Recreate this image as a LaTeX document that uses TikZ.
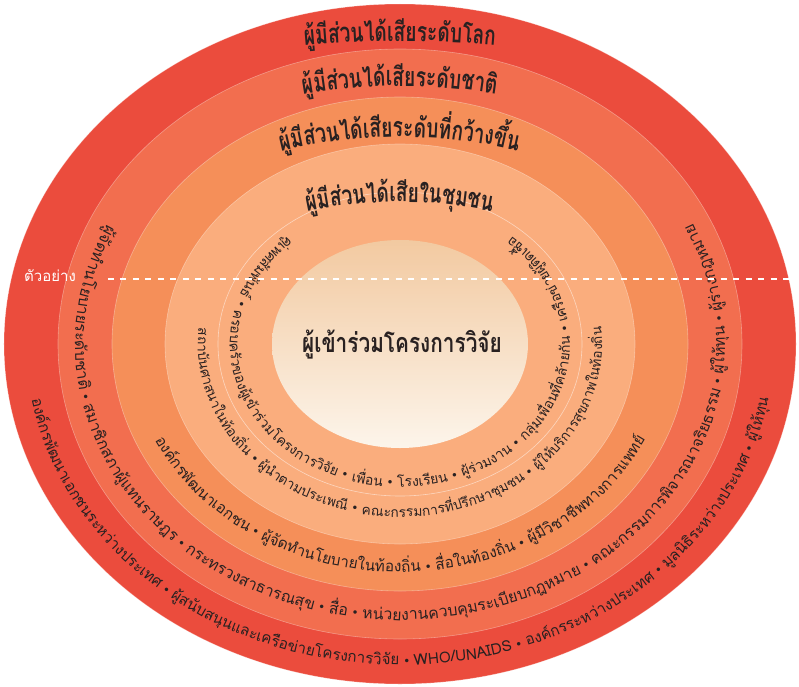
\documentclass[tikz,border=0pt]{standalone}
\usepackage{fontspec}
\usepackage{graphicx}
\newfontfamily\thaifont[Script=Thai]{Loma}
\newfontfamily\symfont{DejaVu Sans}
\definecolor{ringred}{rgb}{0.92, 0.30, 0.24}
\definecolor{ringsalmon}{rgb}{0.95, 0.43, 0.31}
\definecolor{ringorange}{rgb}{0.96, 0.56, 0.35}
\definecolor{ringpeach}{rgb}{0.98, 0.68, 0.49}
\definecolor{coretop}{rgb}{0.95, 0.79, 0.63}
\definecolor{corebottom}{rgb}{0.99, 0.96, 0.92}
\definecolor{ink}{rgb}{0.16, 0.13, 0.13}
\def\bodypt{15.3}
\newcommand{\bodybox}[1]{{\thaifont\fontsize{\bodypt}{18}\selectfont #1}}
\newcommand{\titlebox}[1]{\scalebox{0.71}[1]{\thaifont\bfseries\fontsize{27pt}{30pt}\selectfont #1}}
\newcommand{\corebox}[1]{\scalebox{0.77}[1]{\thaifont\bfseries\fontsize{27pt}{30pt}\selectfont #1}}
\protected\def\dotsep{\kern4pt{\symfont\fontsize{12pt}{12pt}\selectfont •}\kern4pt}
\makeatletter
\newdimen\clusterwd
\newdimen\ringtotal
\newbox\clusterbox
\newcount\ringstep
\def\ringstop{\ringstop}
\def\ringscan#1,{\def\ringpiece{#1}\ifx\ringpiece\ringstop\else\ringdo\expandafter\ringscan\fi}
% width of a piece, taken inside a node where the font is live
\def\ringgauge{\node[inner sep=0pt] at (0,0) {\setbox\clusterbox=\hbox{\ringbox{\ringpiece}}\global\clusterwd=\wd\clusterbox};%
  \edef\ringw{\strip@pt\clusterwd}}
\def\ringmeasure{\ringgauge\global\advance\ringtotal by\clusterwd}
\def\ringwalk{\ringstep=0
  \loop\ifnum\ringstep<40 \advance\ringstep by1
    \pgfmathsetmacro{\ringangle}{\ringangle-(\ringsense)*57.29578*(\ringtot/80)/(100*sqrt((\ringrx/100*sin(\ringangle))^2+(\ringry/100*cos(\ringangle))^2))}%
  \repeat}
\def\ringplace{%
  \ringgauge
  \pgfmathsetmacro{\ringmid}{\ringangle+(\ringsense)*57.29578*(\ringw/2)/(100*sqrt((\ringrx/100*sin(\ringangle))^2+(\ringry/100*cos(\ringangle))^2))}%
  \pgfmathsetmacro{\ringturn}{atan2((\ringsense)*(\ringry)*cos(\ringmid),-(\ringsense)*(\ringrx)*sin(\ringmid))}%
  \node[text=ink, anchor=base, inner sep=0pt, rotate=\ringturn] at ({\ringcx+\ringrx*cos(\ringmid)},{\ringcy+\ringry*sin(\ringmid)}) {\ringbox{\ringpiece}};%
  \pgfmathsetmacro{\ringangle}{\ringangle+(\ringsense)*57.29578*\ringw/(100*sqrt((\ringrx/100*sin(\ringmid))^2+(\ringry/100*cos(\ringmid))^2))}%
}
% #1,#2 centre, #3,#4 radii, #5 middle angle, #6 sense, #7 box, #8 pieces
\newcommand{\ringwrite}[8]{%
  \def\ringcx{#1}\def\ringcy{#2}\def\ringrx{#3}\def\ringry{#4}\def\ringsense{#6}\let\ringbox#7%
  \global\ringtotal=0pt
  \let\ringdo\ringmeasure
  \ringscan#8,\ringstop,%
  \edef\ringtot{\strip@pt\ringtotal}%
  \def\ringangle{#5}%
  \ringwalk
  \let\ringdo\ringplace
  \ringscan#8,\ringstop,%
}
\makeatother

\begin{document}
\begin{tikzpicture}[x=1pt,y=1pt,
  ringedge/.style={draw=white, draw opacity=.35, line width=.6pt}]
\useasboundingbox (-400,-342) rectangle (399,344);

% rings, outside in
\filldraw[fill=ringred, ringedge] (0,0) ellipse [x radius=396pt, y radius=340pt];
\filldraw[fill=ringsalmon, ringedge] (0,0) ellipse [x radius=342pt, y radius=295pt];
\filldraw[fill=ringorange, ringedge] (0,0) ellipse [x radius=288pt, y radius=247pt];
\filldraw[fill=ringpeach, ringedge] (0,0) ellipse [x radius=235pt, y radius=200pt];
\draw[ringedge, draw opacity=.5] (0,0) ellipse [x radius=182pt, y radius=152pt];
\shade[top color=coretop, bottom color=corebottom] (0,0) ellipse [x radius=128pt, y radius=104pt];

% titles over the top
\ringwrite{0}{-697}{1000}{1000}{90}{-1}{\titlebox}{ผู้,มี,ส่วน,ได้,เสีย,ระ,ดับ,โลก}
\ringwrite{0}{-302}{560}{560}{90}{-1}{\titlebox}{ผู้,มี,ส่วน,ได้,เสีย,ระ,ดับ,ชาติ}
\ringwrite{0}{-293}{500}{500}{90}{-1}{\titlebox}{ผู้,มี,ส่วน,ได้,เสีย,ระ,ดับ,ที่,กว้าง,ขึ้น}
\ringwrite{0}{-308}{450}{450}{90}{-1}{\titlebox}{ผู้,มี,ส่วน,ได้,เสีย,ใน,ชุม,ชน}

% members, round the bottom
\def\bodypt{15.2}
\ringwrite{0}{0}{374}{321}{270}{1}{\bodybox}{อง,ค์,กร,พัฒ,นา,เอก,ชน,ระ,หว่าง,ประ,เทศ,\dotsep,ผู้,สนับ,สนุน,และ,เครือ,ข่าย,โครง,การ,วิ,จัย,\dotsep,WHO/UN,AIDS,\dotsep,อง,ค์,กร,ระ,หว่าง,ประ,เทศ,\dotsep,มูล,นิ,ธิ,ระ,หว่าง,ประ,เทศ,\dotsep,ผู้,ให้,ทุน}
\def\bodypt{15.8}
\ringwrite{0}{0}{325}{276}{270}{1}{\bodybox}{ผู้,จัด,ทำ,นโย,บาย,ระ,ดับ,ชาติ,\dotsep,สมา,ชิก,สภา,ผู้,แทน,ราษ,ฎร,\dotsep,กระ,ทรวง,สา,ธา,รณ,สุข,\dotsep,สื่อ,\dotsep,หน่วย,งาน,ควบ,คุม,ระ,เบียบ,กฎ,หมาย,\dotsep,คณะ,กรรม,การ,พิ,จา,รณา,จริ,ย,ธรรม,\dotsep,ผู้,ให้,ทุน,\dotsep,ผู้,ร่าง,กฎ,หมาย}
\def\bodypt{15.3}
\ringwrite{0}{0}{270}{228}{270}{1}{\bodybox}{อง,ค์,กร,พัฒ,นา,เอก,ชน,\dotsep,ผู้,จัด,ทำ,นโย,บาย,ใน,ท้อง,ถิ่น,\dotsep,สื่อ,ใน,ท้อง,ถิ่น,\dotsep,ผู้,มี,วิ,ชา,ชีพ,ทาง,การ,แพ,ทย์}
\def\bodypt{13.7}
\ringwrite{0}{0}{202}{173}{270}{1}{\bodybox}{สถา,บัน,ศา,สนา,ใน,ท้อง,ถิ่น,\dotsep,ผู้,นำ,ตาม,ประ,เพ,ณี,\dotsep,คณะ,กรรม,การ,ที่,ปรึก,ษา,ชุม,ชน,\dotsep,ผู้,ให้,บริ,การ,สุข,ภาพ,ใน,ท้อง,ถิ่น}
\def\bodypt{13.9}
\ringwrite{0}{0}{170}{143}{270}{1}{\bodybox}{คู่,เพศ,สัม,พันธ์,\dotsep,คร,อบ,ครัว,ของ,ผู้,เข้า,ร่วม,โค,รง,การ,วิ,จัย,\dotsep,เพื่,อน,\dotsep,โรง,เรี,ยน,\dotsep,ผู้,ร่วม,งาน,\dotsep,กลุ่ม,เพื่,อน,ที่,คล้,าย,กัน,\dotsep,เค,รือ,ข่าย,ผู้,ติด,เชื้,อ}

\node[text=ink, anchor=base] (core) at (2,-8) {\corebox{ผู้เข้าร่วมโครงการวิจัย}};

% example cut
\coordinate (dashstart) at (-292,65);
\coordinate (dashend) at (399,65);
\draw[white, line width=1.3pt, dash pattern=on 6pt off 6.5pt] (dashstart) -- (dashend);
\node[text=white] (example) at (-350,68) {\thaifont\fontsize{15pt}{17pt}\selectfont ตัวอย่าง};
\end{tikzpicture}
\end{document}
